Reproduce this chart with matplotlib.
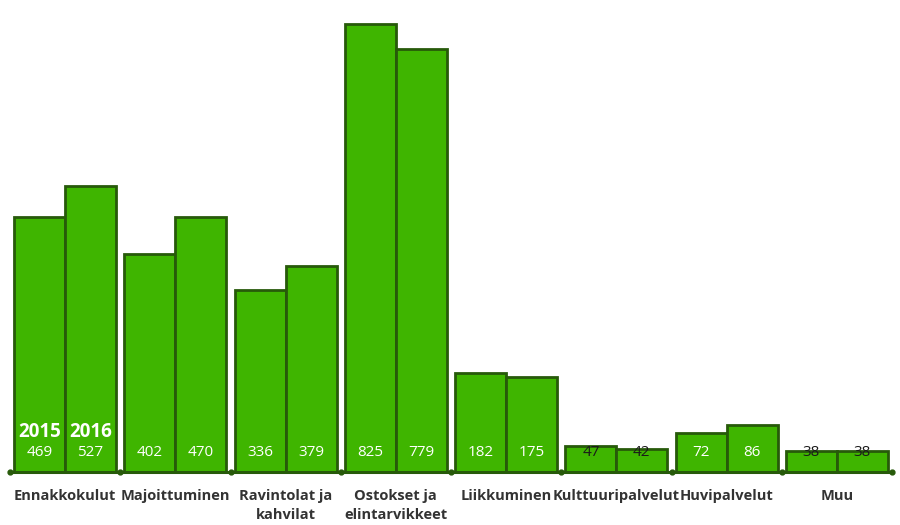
import numpy as np
import matplotlib
matplotlib.use("Agg")
import matplotlib.pyplot as plt

# Data
categories = ["Ennakkokulut", "Majoittuminen", "Ravintolat ja\nkahvilat",
              "Ostokset ja\nelintarvikkeet", "Liikkuminen", "Kulttuuripalvelut",
              "Huvipalvelut", "Muu"]
values_2015 = [469, 402, 336, 825, 182, 47, 72, 38]
values_2016 = [527, 470, 379, 779, 175, 42, 86, 38]
years = ["2015", "2016"]

FILL = "#3fb500"
EDGE = "#275a0a"

fig = plt.figure(figsize=(9, 5.25), dpi=100)
ax = fig.add_axes([10 / 900, 53 / 525, 882 / 900, 461.6 / 525])

x = np.arange(len(categories))
w = 0.4625
ax.bar(x - w / 2, values_2015, width=w, color=FILL, edgecolor=EDGE, linewidth=2)
ax.bar(x + w / 2, values_2016, width=w, color=FILL, edgecolor=EDGE, linewidth=2)

ax.set_xlim(-0.5, len(categories) - 0.5)
ax.set_ylim(0, 850)

# value labels near the bottom of each bar
for xs, vals in ((x - w / 2, values_2015), (x + w / 2, values_2016)):
    for xi, v in zip(xs, vals):
        col = "white" if v > 60 else "#1a1a1a"
        ax.text(xi, 35, str(v), ha="center", va="center", fontsize=11,
                color=col, family="Open Sans")

# year labels on the first group
ax.text(x[0] - w / 2, 74, years[0], ha="center", va="center", fontsize=13.5,
        fontweight="bold", color="white", family="Open Sans")
ax.text(x[0] + w / 2, 74, years[1], ha="center", va="center", fontsize=13.5,
        fontweight="bold", color="white", family="Open Sans")

# baseline with small dots at group boundaries
ax.axhline(0, color=EDGE, linewidth=2.2, clip_on=False, zorder=3)
bounds = np.arange(len(categories) + 1) - 0.5
ax.plot(bounds, np.zeros_like(bounds), "o", color=EDGE, markersize=3.5,
        clip_on=False, zorder=4)

ax.set_xticks(x)
ax.set_xticklabels(categories, fontsize=10.5, fontweight="bold", color="#333333",
                   family="Open Sans", linespacing=1.45, va="top")
ax.tick_params(axis="x", length=0, pad=12)
ax.set_yticks([])
for s in ax.spines.values():
    s.set_visible(False)

fig.savefig("out.png", dpi=100)
